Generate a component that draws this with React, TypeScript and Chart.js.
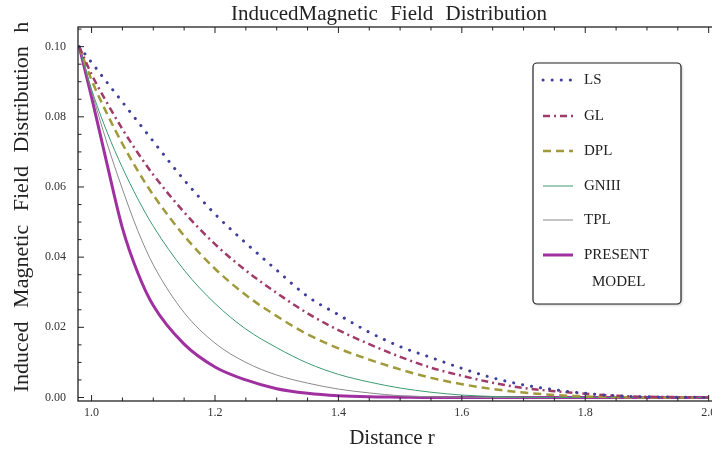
import React, { useEffect, useRef } from "react";
import { Chart, registerables } from "chart.js";

Chart.register(...registerables);

// ---- data ----
const R = [0.98, 1.0, 1.025, 1.05, 1.075, 1.1, 1.15, 1.2, 1.25, 1.3, 1.35, 1.4, 1.45, 1.5, 1.55, 1.6, 1.65, 1.7, 1.75, 1.8, 1.85, 1.9, 1.95, 2.0];
const LS = [0.100, 0.0955, 0.0898, 0.0842, 0.0786, 0.0730, 0.0620, 0.0523, 0.0440, 0.0363, 0.0288, 0.0236, 0.0186, 0.0145, 0.0114, 0.0083, 0.0056, 0.0036, 0.0022, 0.0012, 0.0005, 0.0002, 0.0001, 0.0];
const GL = [0.100, 0.0921, 0.0840, 0.0765, 0.0697, 0.0635, 0.0528, 0.0437, 0.0362, 0.0298, 0.0240, 0.0192, 0.0152, 0.0116, 0.0085, 0.0062, 0.0042, 0.0027, 0.0018, 0.0011, 0.0005, 0.0002, 0.0001, 0.0];
const DPL = [0.100, 0.0905, 0.0809, 0.0723, 0.0646, 0.0577, 0.0461, 0.0367, 0.0292, 0.0232, 0.0180, 0.0140, 0.0108, 0.0080, 0.0056, 0.0038, 0.0024, 0.0014, 0.0007, 0.0003, 0.0001, 0.0, 0.0, 0.0];
const GNIII = [0.100, 0.0878, 0.0757, 0.0655, 0.0566, 0.0488, 0.0363, 0.0268, 0.0195, 0.0142, 0.0098, 0.0066, 0.0044, 0.0027, 0.0015, 0.0007, 0.0003, 0.0001, 0.0, 0.0, 0.0, 0.0, 0.0, 0.0];
const TPL = [0.100, 0.0873, 0.0725, 0.0594, 0.0475, 0.0378, 0.0242, 0.0155, 0.0100, 0.0064, 0.0041, 0.0024, 0.0013, 0.0005, 0.0002, 0.0001, 0.0, 0.0, 0.0, 0.0, 0.0, 0.0, 0.0, 0.0];
const PRESENT = [0.100, 0.0856, 0.0666, 0.0483, 0.0355, 0.0262, 0.0152, 0.0087, 0.0050, 0.0025, 0.0012, 0.0005, 0.0002, 0.0001, 0.0, 0.0, 0.0, 0.0, 0.0, 0.0, 0.0, 0.0, 0.0, 0.0];

const SERIES_LABELS = ["LS", "GL", "DPL", "GNIII", "TPL", "PRESENT MODEL"];
const X_TICKS = [1.0, 1.2, 1.4, 1.6, 1.8, 2.0];
const Y_TICKS = [0.0, 0.02, 0.04, 0.06, 0.08, 0.1];
const TITLE = "InducedMagnetic Field Distribution";
const X_TITLE = "Distance r";
const Y_TITLE = "Induced Magnetic Field Distribution h";

const SERIF = "'Liberation Serif', 'DejaVu Serif', serif";

const framePlugin = {
  id: "frameTicks",
  afterDatasetsDraw(chart: any) {
    const { ctx, chartArea: a, scales } = chart;
    const xs = scales.x;
    const ys = scales.y;
    ctx.save();
    ctx.strokeStyle = "#222";
    ctx.lineWidth = 1.3;
    ctx.strokeRect(a.left, a.top, a.right - a.left, a.bottom - a.top);
    ctx.lineWidth = 1;
    for (let i = 0; i <= 40; i++) {
      const v = 1.0 + i * 0.05;
      const px = xs.getPixelForValue(v);
      if (px < a.left || px > a.right) continue;
      const major = i % 4 === 0;
      const len = major ? 6 : 3.5;
      ctx.beginPath();
      ctx.moveTo(px, a.bottom);
      ctx.lineTo(px, a.bottom - len);
      ctx.moveTo(px, a.top);
      ctx.lineTo(px, a.top + len);
      ctx.stroke();
    }
    for (let i = 0; i <= 21; i++) {
      const v = i * 0.005;
      const py = ys.getPixelForValue(v);
      if (py < a.top || py > a.bottom) continue;
      const major = i % 4 === 0;
      const len = major ? 6 : 3.5;
      ctx.beginPath();
      ctx.moveTo(a.left, py);
      ctx.lineTo(a.left + len, py);
      ctx.stroke();
    }
    ctx.restore();
  },
  afterDraw(chart: any) {
    const { ctx } = chart;
    ctx.save();
    ctx.fillStyle = "#222";
    ctx.textAlign = "center";
    ctx.textBaseline = "middle";
    // title
    ctx.font = `21px ${SERIF}`;
    (ctx as any).wordSpacing = "7px";
    ctx.fillText(TITLE, 389, 14);
    // x title
    (ctx as any).wordSpacing = "0px";
    ctx.font = `21px ${SERIF}`;
    ctx.fillText(X_TITLE, 392, 438);
    // y title
    ctx.save();
    ctx.translate(22, 207);
    ctx.rotate(-Math.PI / 2);
    ctx.font = `22px ${SERIF}`;
    (ctx as any).wordSpacing = "8px";
    ctx.fillText(Y_TITLE, 0, 0);
    ctx.restore();
    (ctx as any).wordSpacing = "0px";

    // legend box
    const bx = 533, by = 63, bw = 148, bh = 241;
    ctx.save();
    ctx.shadowColor = "rgba(0,0,0,0.25)";
    ctx.shadowBlur = 3;
    ctx.shadowOffsetX = 1;
    ctx.shadowOffsetY = 1;
    ctx.fillStyle = "#fff";
    ctx.beginPath();
    (ctx as any).roundRect(bx, by, bw, bh, 4);
    ctx.fill();
    ctx.restore();
    ctx.strokeStyle = "#222";
    ctx.lineWidth = 1.2;
    ctx.beginPath();
    (ctx as any).roundRect(bx, by, bw, bh, 4);
    ctx.stroke();

    const rows = [80, 116, 151, 186, 220, 255];
    chart.data.datasets.forEach((ds: any, i: number) => {
      const y = rows[i];
      ctx.save();
      ctx.strokeStyle = ds.borderColor;
      ctx.lineWidth = ds.borderWidth;
      ctx.setLineDash(ds.borderDash || []);
      ctx.lineCap = ds.borderCapStyle || "butt";
      ctx.beginPath();
      ctx.moveTo(543, y);
      ctx.lineTo(573, y);
      ctx.stroke();
      ctx.restore();
      ctx.fillStyle = "#222";
      ctx.textAlign = "left";
      ctx.font = `15px ${SERIF}`;
      const parts = String(ds.label).split(" ");
      ctx.fillText(parts[0], 584, y);
      if (parts[1]) ctx.fillText(parts[1], 592, y + 27);
    });
    ctx.restore();
  },
};

export default function App() {
  const ref = useRef<HTMLCanvasElement | null>(null);
  useEffect(() => {
    document.body.style.margin = "0";
    const canvas = ref.current!;
    const mk = (label: string, data: number[], color: string, width: number, dash: number[], cap = "butt") => ({
      label,
      data: R.map((r, i) => ({ x: r, y: data[i] })),
      borderColor: color,
      backgroundColor: color,
      borderWidth: width,
      borderDash: dash,
      borderCapStyle: cap,
      pointRadius: 0,
      fill: false,
      cubicInterpolationMode: "monotone" as const,
    });
    const chart = new Chart(canvas, {
      type: "line",
      data: {
        datasets: [
          mk(SERIES_LABELS[0], LS, "#40409a", 3, [0.1, 9], "round"),
          mk(SERIES_LABELS[1], GL, "#a03a68", 2.5, [7, 4, 2, 4]),
          mk(SERIES_LABELS[2], DPL, "#a09a3a", 2.5, [8, 5]),
          mk(SERIES_LABELS[3], GNIII, "#3d9a70", 1, []),
          mk(SERIES_LABELS[4], TPL, "#8a8a8a", 1, []),
          mk(SERIES_LABELS[5], PRESENT, "#a030a0", 3, []),
        ] as any,
      },
      options: {
        animation: false,
        responsive: false,
        devicePixelRatio: 1,
        layout: { padding: { top: 27, left: 0, right: 4, bottom: 0 } },
        plugins: {
          legend: { display: false },
          title: { display: false },
          tooltip: { enabled: false },
        },
        scales: {
          x: {
            type: "linear",
            min: 0.978,
            max: 2.02,
            grid: { display: false, drawTicks: false },
            border: { display: false },
            afterBuildTicks: (s: any) => {
              s.ticks = X_TICKS.map((value) => ({ value }));
            },
            afterFit: (s: any) => {
              s.height = 57;
            },
            ticks: {
              autoSkip: false,
              maxRotation: 0,
              padding: 5,
              color: "#333",
              font: { family: SERIF, size: 12 },
              callback: (v: any) => Number(v).toFixed(1),
            },
          },
          y: {
            type: "linear",
            min: -0.001,
            max: 0.1056,
            grid: { display: false, drawTicks: false },
            border: { display: false },
            afterBuildTicks: (s: any) => {
              s.ticks = Y_TICKS.map((value) => ({ value }));
            },
            afterFit: (s: any) => {
              s.width = 78;
            },
            ticks: {
              padding: 12,
              color: "#333",
              font: { family: SERIF, size: 12 },
              callback: (v: any) => Number(v).toFixed(2),
            },
          },
        },
      },
      plugins: [framePlugin],
    });
    return () => chart.destroy();
  }, []);
  return (
    <div style={{ width: 712, height: 458, overflow: "hidden", position: "relative", background: "#fff" }}>
      <canvas ref={ref} width={725} height={458} style={{ display: "block", width: 725, height: 458 }} />
    </div>
  );
}
